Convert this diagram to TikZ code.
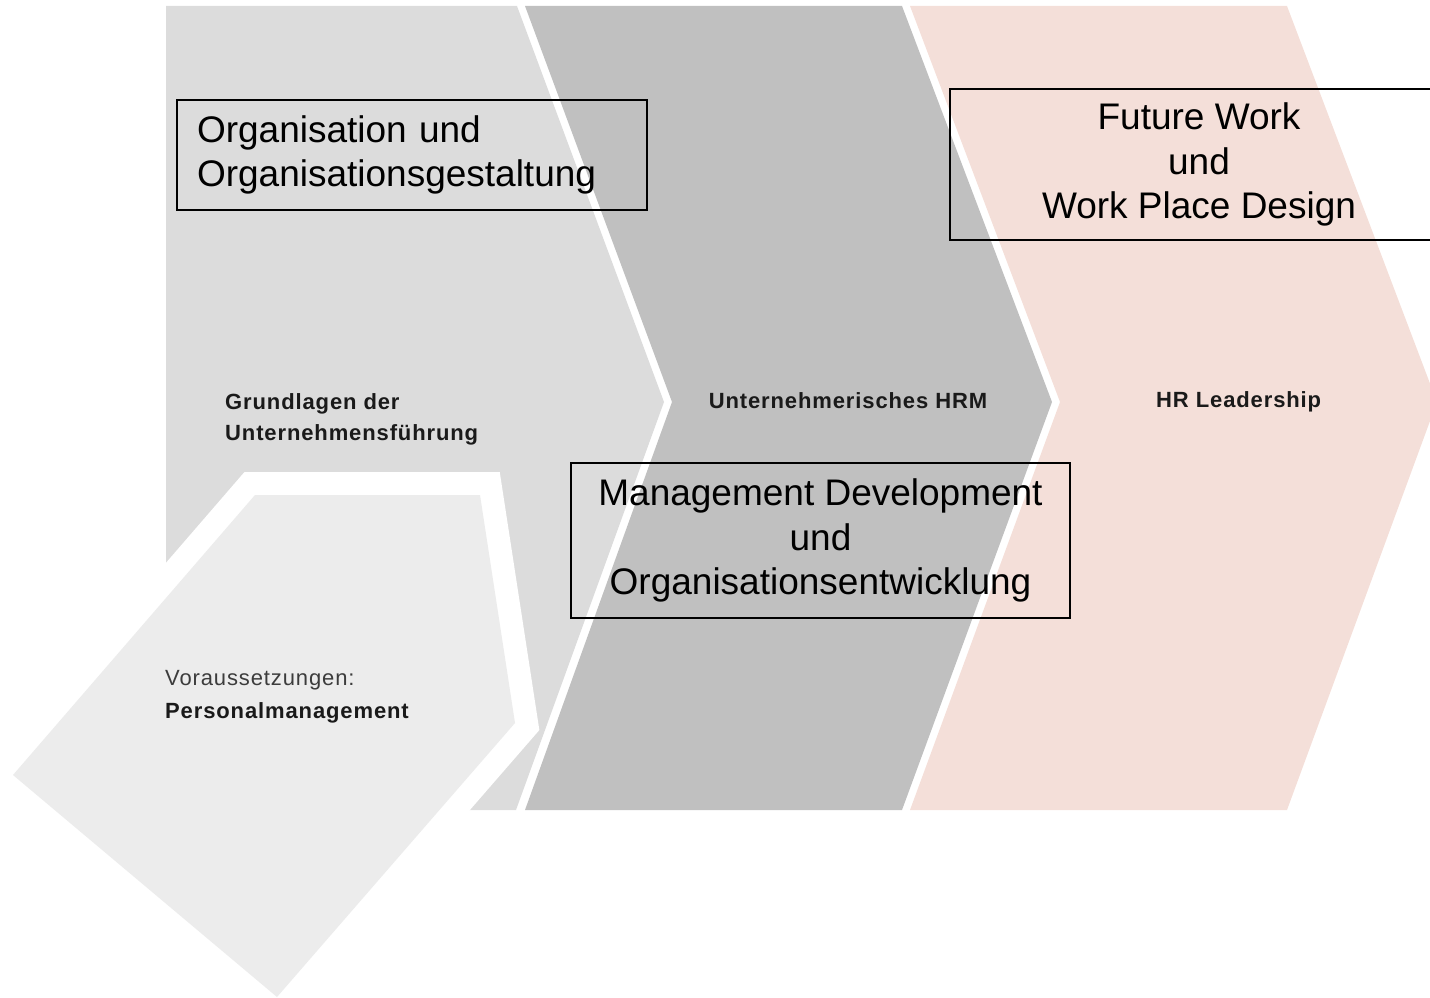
\documentclass[tikz,border=0pt]{standalone}
\usepackage{fontspec}
\setmainfont{Liberation Sans}
\newfontfamily\lblfont[LetterSpace=4]{Liberation Sans}
\newfontfamily\prefont[LetterSpace=4]{Liberation Sans}
\definecolor{chevA}{HTML}{DCDCDC}
\definecolor{chevB}{HTML}{C0C0C0}
\definecolor{chevC}{HTML}{F4DFD9}
\definecolor{pentfill}{HTML}{ECECEC}
\definecolor{lbltext}{HTML}{1A1A1A}
\definecolor{pretext}{HTML}{3C3C3C}
\begin{document}
\begin{tikzpicture}[x=1pt,y=-1pt,
  box/.style={draw=black, line width=1.5, fill=none, inner xsep=0, inner ysep=0,
    font=\fontsize{37}{44.5}\selectfont, text=black},
  lbl/.style={inner sep=0, text=lbltext, font={\lblfont\bfseries\fontsize{22}{31}\selectfont}},
  prelbl/.style={inner sep=0, text=pretext, font={\prefont\fontsize{22}{31}\selectfont}}]
\useasboundingbox (0,0) rectangle (1430,998);
\clip (0,0) rectangle (1430,998);
% chevron 1
\fill[chevA] (166,6) -- (517,6) -- (664,402) -- (516,810) -- (166,810) -- cycle;
% pentagon with white border
\draw[white, line width=46, line join=miter]
  (255,495) -- (480,495) -- (515,723) -- (277,997) -- (13,775) -- cycle;
\fill[pentfill]
  (255,495) -- (480,495) -- (515,723) -- (277,997) -- (13,775) -- cycle;
% chevron 2
\fill[chevB] (525,6) -- (902,6) -- (1052,402) -- (902,810) -- (525,810) -- (672,402) -- cycle;
% chevron 3
\fill[chevC] (910,6) -- (1287,6) -- (1437,402) -- (1287,810) -- (910,810) -- (1060,402) -- cycle;
% labels
\node[lbl, anchor=north west, align=left] (grund) at (225,393) {Grundlagen der\\Unternehmensführung};
\node[lbl, anchor=base] (uhrm) at (848,408) {Unternehmerisches HRM};
\node[lbl, anchor=base west] (hrl) at (1156,407) {HR Leadership};
\node[prelbl, anchor=base west] (vor) at (165,685) {Voraussetzungen:};
\node[lbl, anchor=base west] (pm) at (165,718) {Personalmanagement};
% boxes
\node[box, minimum width=470, minimum height=110, text width=430, align=left, inner xsep=20]
  (b1) at (412,155) {Organisation und\\Organisationsgestaltung};
\node[box, minimum width=498, minimum height=151, align=center]
  (b2) at (1199,164.5) {Future Work\\und\\Work Place Design};
\node[box, minimum width=499, minimum height=155, align=center]
  (b3) at (820.5,540.5) {Management Development\\und\\Organisationsentwicklung};
\end{tikzpicture}
\end{document}
